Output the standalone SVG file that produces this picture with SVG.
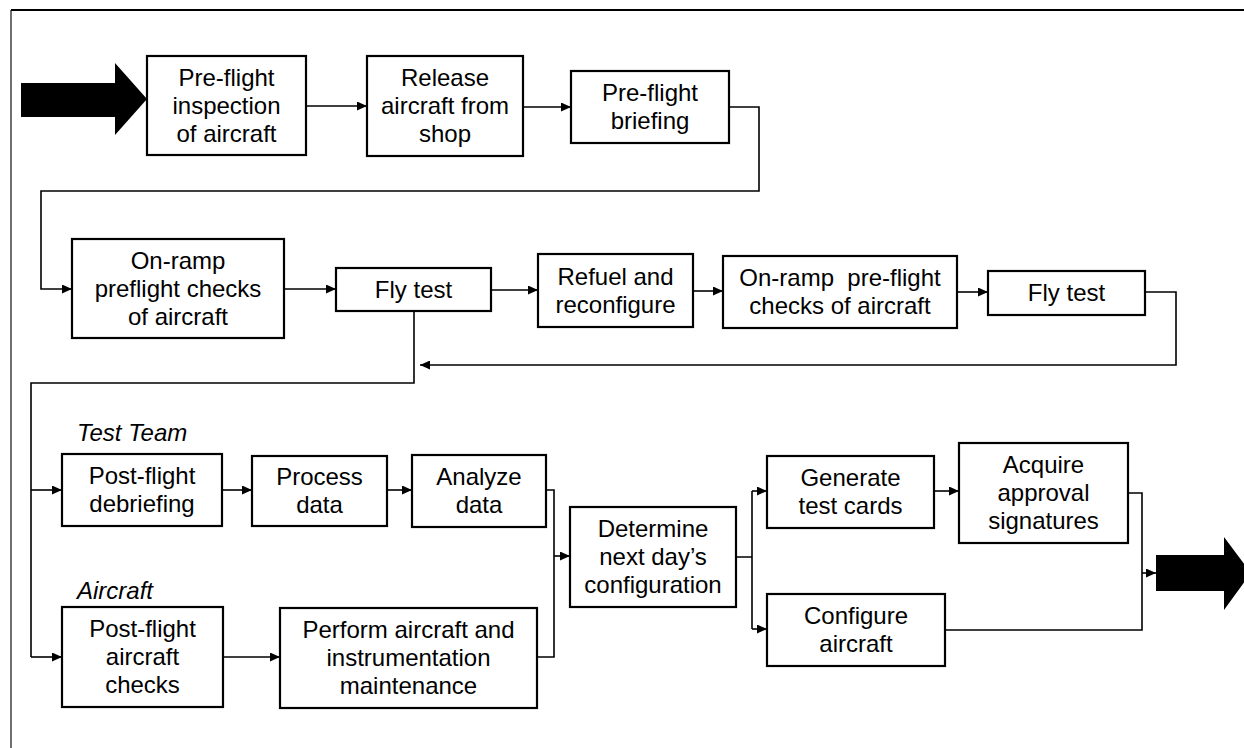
<svg xmlns="http://www.w3.org/2000/svg" width="1244" height="748" viewBox="0 0 1244 748">
  <style>
    .box rect { fill: #fff; stroke: #000; stroke-width: 2.2; }
    .box text, .lbl { font-family: "Liberation Sans", Arial, sans-serif; font-size: 24px; fill: #000; text-anchor: middle; }
    .lbl { text-anchor: start; font-style: italic; }
    .wire { fill: none; stroke: #000; stroke-width: 1.6; }
    .frame-top { fill: none; stroke: #000; stroke-width: 2.2; }
    .frame-side { fill: none; stroke: #333; stroke-width: 1.4; }
  </style>
  <defs>
    <marker id="ah" markerUnits="userSpaceOnUse" markerWidth="11" markerHeight="9" refX="10" refY="4.5" orient="auto">
      <path d="M0,0 L10,4.5 L0,9 Z" fill="#000"/>
    </marker>
  </defs>
  <rect width="1244" height="748" fill="#fff"/>

  <!-- page frame -->
  <path class="frame-side" d="M11,748 V10"/>
  <path class="frame-top" d="M11,10 H1244"/>

  <!-- big block arrows: in and out -->
  <polygon points="21,83 115,83 115,63 147,99 115,135 115,117 21,117" fill="#000"/>
  <polygon points="1156,555 1224,555 1224,537 1251,573 1224,610 1224,591 1156,591" fill="#000"/>

  <g id="connectors">
    <path class="wire" marker-end="url(#ah)" d="M306,106 H367"/>
    <path class="wire" marker-end="url(#ah)" d="M523,107 H571"/>
    <path class="wire" marker-end="url(#ah)" d="M729,107 H759 V191 H41 V289 H72"/>
    <path class="wire" marker-end="url(#ah)" d="M284,289 H336"/>
    <path class="wire" marker-end="url(#ah)" d="M491,290 H538"/>
    <path class="wire" marker-end="url(#ah)" d="M693,291 H723"/>
    <path class="wire" marker-end="url(#ah)" d="M957,292 H988"/>
    <path class="wire" marker-end="url(#ah)" d="M1145,292 H1176 V365 H420"/>
    <path class="wire" d="M414,311 V383 H31 V657"/>
    <path class="wire" marker-end="url(#ah)" d="M31,490 H62"/>
    <path class="wire" marker-end="url(#ah)" d="M31,657 H62"/>
    <path class="wire" marker-end="url(#ah)" d="M222,490 H252"/>
    <path class="wire" marker-end="url(#ah)" d="M387,490 H412"/>
    <path class="wire" marker-end="url(#ah)" d="M223,657 H280"/>
    <path class="wire" d="M546,490 H554 V657 H537"/>
    <path class="wire" marker-end="url(#ah)" d="M554,556 H570"/>
    <path class="wire" d="M736,557 H752 M752,491 V629"/>
    <path class="wire" marker-end="url(#ah)" d="M752,491 H767"/>
    <path class="wire" marker-end="url(#ah)" d="M752,629 H767"/>
    <path class="wire" marker-end="url(#ah)" d="M934,491 H959"/>
    <path class="wire" d="M1128,493 H1142 V630 H945"/>
    <path class="wire" marker-end="url(#ah)" d="M1142,573 H1156"/>
  </g>

  <g id="preflight-inspection" class="box">
    <rect x="147" y="56" width="159" height="99"/>
    <text x="226.5" y="86">Pre-flight</text>
    <text x="226.5" y="114">inspection</text>
    <text x="226.5" y="142">of aircraft</text>
  </g>
  <g id="release-aircraft" class="box">
    <rect x="367" y="56" width="156" height="100"/>
    <text x="445" y="86">Release</text>
    <text x="445" y="114">aircraft from</text>
    <text x="445" y="142">shop</text>
  </g>
  <g id="preflight-briefing" class="box">
    <rect x="571" y="71" width="158" height="72"/>
    <text x="650" y="101">Pre-flight</text>
    <text x="650" y="129">briefing</text>
  </g>
  <g id="onramp-checks-1" class="box">
    <rect x="72" y="239" width="212" height="99"/>
    <text x="178" y="269">On-ramp</text>
    <text x="178" y="297">preflight checks</text>
    <text x="178" y="325">of aircraft</text>
  </g>
  <g id="fly-test-1" class="box">
    <rect x="336" y="268" width="155" height="43"/>
    <text x="413.5" y="298">Fly test</text>
  </g>
  <g id="refuel" class="box">
    <rect x="538" y="254" width="155" height="73"/>
    <text x="615.5" y="285">Refuel and</text>
    <text x="615.5" y="313">reconfigure</text>
  </g>
  <g id="onramp-checks-2" class="box">
    <rect x="723" y="256" width="234" height="72"/>
    <text x="840" y="286">On-ramp&#160; pre-flight</text>
    <text x="840" y="314">checks of aircraft</text>
  </g>
  <g id="fly-test-2" class="box">
    <rect x="988" y="271" width="157" height="44"/>
    <text x="1066.5" y="301">Fly test</text>
  </g>

  <text class="lbl" x="77" y="441">Test Team</text>
  <text class="lbl" x="77" y="599">Aircraft</text>

  <g id="postflight-debriefing" class="box">
    <rect x="62" y="454" width="160" height="72"/>
    <text x="142" y="484">Post-flight</text>
    <text x="142" y="512">debriefing</text>
  </g>
  <g id="process-data" class="box">
    <rect x="252" y="456" width="135" height="70"/>
    <text x="319.5" y="485">Process</text>
    <text x="319.5" y="513">data</text>
  </g>
  <g id="analyze-data" class="box">
    <rect x="412" y="455" width="134" height="72"/>
    <text x="479" y="485">Analyze</text>
    <text x="479" y="513">data</text>
  </g>
  <g id="postflight-checks" class="box">
    <rect x="62" y="607" width="161" height="100"/>
    <text x="142.5" y="637">Post-flight</text>
    <text x="142.5" y="665">aircraft</text>
    <text x="142.5" y="693">checks</text>
  </g>
  <g id="maintenance" class="box">
    <rect x="280" y="608" width="257" height="100"/>
    <text x="408.5" y="638">Perform aircraft and</text>
    <text x="408.5" y="666">instrumentation</text>
    <text x="408.5" y="694">maintenance</text>
  </g>
  <g id="determine-config" class="box">
    <rect x="570" y="507" width="166" height="100"/>
    <text x="653" y="537">Determine</text>
    <text x="653" y="565">next day’s</text>
    <text x="653" y="593">configuration</text>
  </g>
  <g id="generate-cards" class="box">
    <rect x="767" y="456" width="167" height="72"/>
    <text x="850.5" y="486">Generate</text>
    <text x="850.5" y="514">test cards</text>
  </g>
  <g id="acquire-signatures" class="box">
    <rect x="959" y="443" width="169" height="100"/>
    <text x="1043.5" y="473">Acquire</text>
    <text x="1043.5" y="501">approval</text>
    <text x="1043.5" y="529">signatures</text>
  </g>
  <g id="configure-aircraft" class="box">
    <rect x="767" y="594" width="178" height="72"/>
    <text x="856" y="624">Configure</text>
    <text x="856" y="652">aircraft</text>
  </g>
</svg>
